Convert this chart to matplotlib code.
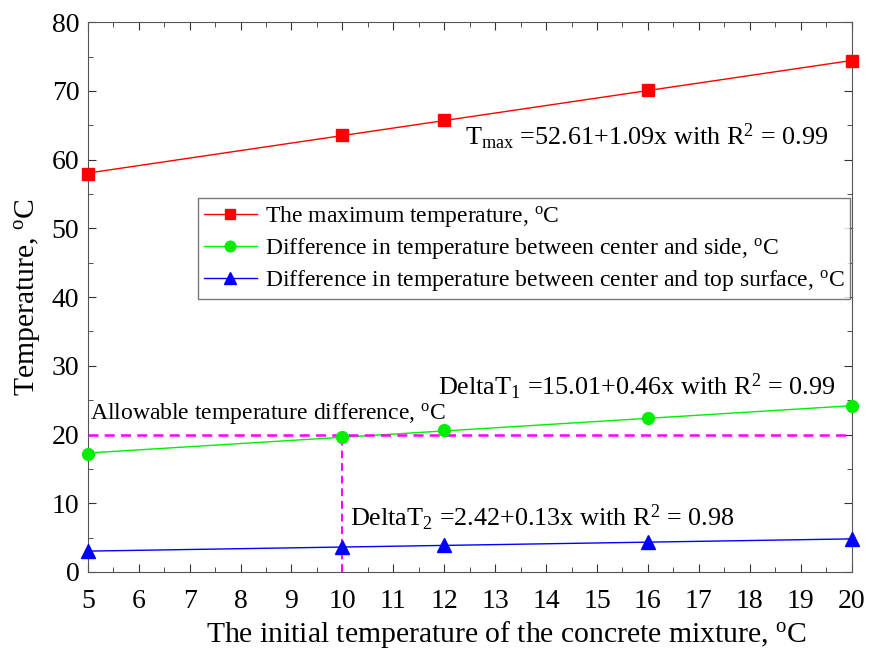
import numpy as np
import matplotlib
matplotlib.use("Agg")
import matplotlib.pyplot as plt
from matplotlib.ticker import MultipleLocator

plt.rcParams['font.family'] = ['Liberation Serif', 'DejaVu Serif']
plt.rcParams['mathtext.fontset'] = 'custom'
plt.rcParams['mathtext.rm'] = 'Liberation Serif'
plt.rcParams['mathtext.it'] = 'Liberation Serif:italic'

x = [5, 10, 12, 16, 20]
t_max = [57.9, 63.6, 65.8, 70.1, 74.3]
delta_t1 = [17.2, 19.7, 20.6, 22.4, 24.1]
delta_t2 = [3.0, 3.6, 4.0, 4.3, 4.8]
allowable = 20
check_x = 10

labels = ["The maximum temperature, $^{\\rm o}$C",
          "Difference in temperature between center and side, $^{\\rm o}$C",
          "Difference in temperature between center and top surface, $^{\\rm o}$C"]

fig = plt.figure(figsize=(8.69, 6.52), dpi=100)
ax = fig.add_axes([0.101, 0.1227, 0.879, 0.8433])

xs = np.array([5, 20])
handles = []
for ys, col, mk, ms, lab in [(t_max, 'red', 's', 8, labels[0]),
                             (delta_t1, '#00ee00', 'o', 8.5, labels[1]),
                             (delta_t2, 'blue', '^', 9.5, labels[2])]:
    p = np.polyfit(x, ys, 1)
    ax.plot(xs, np.polyval(p, xs), color=col, lw=1, zorder=2)
    ax.plot(x, ys, linestyle='none', marker=mk, ms=ms, color=col, zorder=3, clip_on=False)
    h, = ax.plot([], [], color=col, lw=1, marker=mk, ms=ms * 0.9, label=lab)
    handles.append(h)

ax.plot([5, 20], [allowable, allowable], color='magenta', lw=1.8, ls=(0, (4, 2.5)), zorder=2)
ax.plot([check_x, check_x], [0, allowable], color='magenta', lw=1.4, ls=(0, (4, 2.5)), zorder=2)

fs = 18.8
ax.text(12.4, 63.3, "T$_{\\rm max}$ =52.61+1.09x with R$^{2}$ = 0.99", fontsize=fs, va='center', ha='left')
ax.text(11.88, 26.9, "DeltaT$_{1}$ =15.01+0.46x with R$^{2}$ = 0.99", fontsize=fs, va='center', ha='left')
ax.text(5.04, 23.1, "Allowable temperature difference, $^{\\rm o}$C", fontsize=17, va='center', ha='left')
ax.text(10.14, 7.9, "DeltaT$_{2}$ =2.42+0.13x with R$^{2}$ = 0.98", fontsize=fs, va='center', ha='left')

ax.set_xlim(5, 20)
ax.set_ylim(0, 80)
ax.xaxis.set_major_locator(MultipleLocator(1))
ax.xaxis.set_minor_locator(MultipleLocator(0.5))
ax.yaxis.set_major_locator(MultipleLocator(10))
ax.yaxis.set_minor_locator(MultipleLocator(5))
ax.tick_params(which='both', direction='in', top=True, right=True, labelsize=20, color='#333333')
ax.tick_params(which='major', length=6)
ax.tick_params(which='minor', length=3.5)
ax.tick_params(axis='x', which='major', pad=12)
ax.tick_params(axis='y', which='major', pad=6)
for s in ax.spines.values():
    s.set_color('#555555')

ax.set_xlabel("The initial temperature of the concrete mixture, $^{\\rm o}$C", fontsize=21.3, labelpad=4)
ax.xaxis.label.set_x(0.548)
ax.set_ylabel("Temperature, $^{\\rm o}$C", fontsize=21.3, labelpad=6)

leg = ax.legend(handles=handles, loc='upper left', bbox_to_anchor=(0.144, 0.68), fontsize=17,
                frameon=True, fancybox=False, edgecolor='#555555', handlelength=2.25,
                borderpad=0.25, labelspacing=0.3, handletextpad=0.34, borderaxespad=0)
leg.get_frame().set_linewidth(1)

fig.savefig("out.png", dpi=100)
